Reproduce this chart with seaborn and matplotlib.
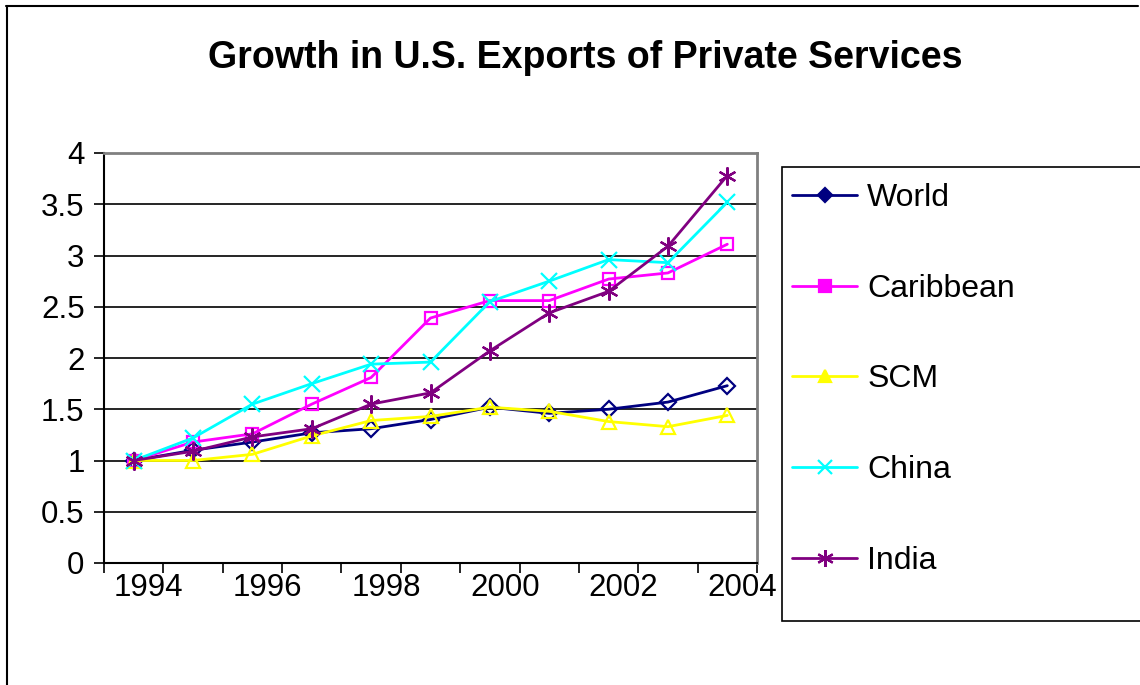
import matplotlib
matplotlib.use("Agg")
import matplotlib.pyplot as plt
from matplotlib.lines import Line2D
from matplotlib.patches import Rectangle
from matplotlib.ticker import FixedLocator
import seaborn as sns
import numpy as np

years = [1994, 1995, 1996, 1997, 1998, 1999, 2000, 2001, 2002, 2003, 2004]
world = [1.00, 1.10, 1.18, 1.27, 1.31, 1.40, 1.52, 1.46, 1.50, 1.57, 1.73]
caribbean = [1.00, 1.18, 1.26, 1.55, 1.81, 2.39, 2.56, 2.56, 2.77, 2.83, 3.11]
scm = [1.00, 1.00, 1.06, 1.24, 1.39, 1.43, 1.52, 1.48, 1.38, 1.33, 1.44]
china = [1.00, 1.22, 1.55, 1.75, 1.94, 1.96, 2.55, 2.75, 2.96, 2.93, 3.52]
india = [1.00, 1.09, 1.23, 1.31, 1.55, 1.66, 2.07, 2.44, 2.65, 3.09, 3.78]
series_names = ["World", "Caribbean", "SCM", "China", "India"]
tick_years = [1994, 1996, 1998, 2000, 2002, 2004]
y_ticks = [0, 0.5, 1, 1.5, 2, 2.5, 3, 3.5, 4]
y_tick_labels = ["0", "0.5", "1", "1.5", "2", "2.5", "3", "3.5", "4"]
title = "Growth in U.S. Exports of Private Services"

series = [world, caribbean, scm, china, india]
colors = ["#000080", "#FF00FF", "#FFFF00", "#00FFFF", "#800080"]
markers = ["D", "s", "^", "x", (6, 2, 0)]
msizes = [8, 9, 10, 11, 13]

sns.set_style("white")
plt.rcParams["font.family"] = ["Liberation Sans", "DejaVu Sans"]
plt.rcParams["text.color"] = "black"
plt.rcParams["xtick.color"] = "black"
plt.rcParams["ytick.color"] = "black"

W, H = 1140, 685
fig = plt.figure(figsize=(W / 100, H / 100), dpi=100)
fig.patch.set_facecolor("white")

def fx(px):
    return px / W

def fy(py):
    return 1 - py / H

ax = fig.add_axes([fx(104), fy(563), fx(757) - fx(104), fy(153) - fy(563)])

for name, vals, c, m, ms in zip(series_names, series, colors, markers, msizes):
    sns.lineplot(x=years, y=vals, ax=ax, color=c, marker=m, markersize=ms,
                 markerfacecolor="none", markeredgecolor=c, markeredgewidth=1.6,
                 linewidth=2, legend=False, zorder=3)

ax.set_xlim(1993.5, 2004.5)
ax.set_ylim(0, 4)

# horizontal gridlines at each 0.5
ax.set_yticks(y_ticks)
ax.set_yticklabels(y_tick_labels)
ax.grid(axis="y", color="black", linewidth=1.2)
ax.grid(axis="x", visible=False)
ax.set_axisbelow(True)
ax.tick_params(axis="y", which="major", direction="out", length=7, width=1.2,
               color="black", labelsize=22.5, pad=7, left=True,
               labelcolor="black")

# category boundary ticks, labels slightly right of category centers
ax.xaxis.set_minor_locator(FixedLocator(np.arange(1993.5, 2005.0, 1.0)))
ax.set_xticks([y + 0.25 for y in tick_years])
ax.set_xticklabels([str(y) for y in tick_years])
ax.tick_params(axis="x", which="major", length=0, labelsize=22.5, pad=7,
               labelcolor="black")
ax.tick_params(axis="x", which="minor", direction="out", length=7, width=1.2,
               color="black", bottom=True)

for side in ["left", "bottom"]:
    ax.spines[side].set_color("black")
    ax.spines[side].set_linewidth(1.5)
for side in ["top", "right"]:
    ax.spines[side].set_color("#808080")
    ax.spines[side].set_linewidth(2)
ax.set_xlabel("")
ax.set_ylabel("")

fig.text(fx(585), fy(58), title, ha="center", va="center",
         fontsize=27, fontweight="bold", color="black")

# legend with filled markers and an open-ended frame
fig.add_artist(Rectangle((fx(782), fy(621)), fx(1200) - fx(782), fy(167) - fy(621),
                         transform=fig.transFigure, facecolor="white",
                         edgecolor="black", linewidth=1.2, zorder=1))
handles = [Line2D([0], [0], color=c, marker=m, markersize=ms - 1,
                  markerfacecolor=c, markeredgecolor=c, markeredgewidth=1.6,
                  linewidth=2)
           for c, m, ms in zip(colors, markers, msizes)]
leg = fig.legend(handles, series_names, loc="upper left",
                 bbox_to_anchor=(fx(792), fy(183)), frameon=False,
                 fontsize=23, handlelength=2.05, handletextpad=0.3,
                 labelspacing=1.9, borderaxespad=0, borderpad=0.0)
for t in leg.get_texts():
    t.set_color("black")
leg.set_zorder(2)

# chart border on top and left
fig.add_artist(Line2D([fx(6), fx(1138)], [fy(5.5), fy(5.5)],
                      transform=fig.transFigure, color="black", linewidth=1.5))
fig.add_artist(Line2D([fx(7), fx(7)], [fy(5.5), fy(690)],
                      transform=fig.transFigure, color="black", linewidth=1.5))

fig.savefig("out.png", dpi=100, facecolor="white")
